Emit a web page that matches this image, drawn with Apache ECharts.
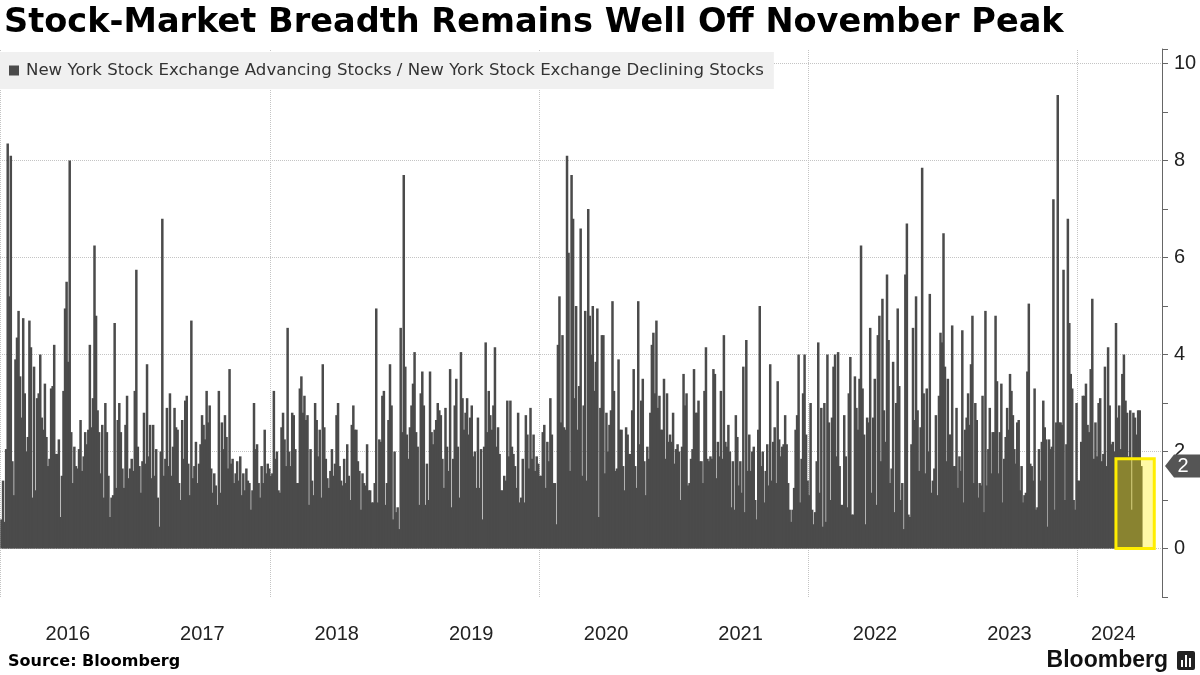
<!DOCTYPE html>
<html><head><meta charset="utf-8">
<script src="https://cdn.jsdelivr.net/npm/echarts@6/dist/echarts.min.js"></script>
<style>html,body{margin:0;padding:0;background:#fff}#chart{width:1200px;height:675px}</style>
</head><body><div id="chart"></div>
<script>
const chartTitle = 'Stock-Market Breadth Remains Well Off November Peak';
const seriesName = 'New York Stock Exchange Advancing Stocks / New York Stock Exchange Declining Stocks';
const sourceText = 'Source: Bloomberg';

// Advancers / decliners ratio (roughly every 2-3 trading days), one list per year
const values2016 = [0.6,1.4,0.55,2.05,8.35,5.2,8.1,1.8,1.1,3.9,4.35,4.9,3.55,2.7,4.75,3.2,2.0,2.3,4.7,4.15,1.05,3.75,1.2,3.1,3.2,4.0,2.7,2.45,3.4,2.3,1.7,1.85,3.3,3.35,4.2,1.95,1.95,2.25,0.65,1.5,3.25,4.95,5.5,3.85,8.0,2.4,1.35,2.1,1.7,1.65,2.05,2.65,1.6,1.9,2.4,2.15,2.45,4.2,2.5,3.1,6.25,4.8,2.85,2.4,1.55,2.55,1.05,3.0,2.4,1.5,0.65,1.05,1.1,4.65,1.25,2.65,3.0,2.4,1.65,1.25,2.55,3.15,1.45,1.65,1.85,1.6,3.25];
const values2017 = [5.75,2.1,1.7,1.15,1.8,2.8,1.75,3.8,1.9,2.55,1.45,2.55,1.5,2.05,1.05,0.45,2.0,6.8,1.5,1.85,2.9,1.7,3.2,1.5,2.1,2.9,2.5,2.45,1.35,1.0,2.65,1.85,3.05,3.15,1.75,1.1,4.7,1.45,1.7,2.2,1.35,1.75,2.15,2.75,2.55,2.25,3.25,2.6,2.95,1.65,1.15,1.55,1.3,0.9,3.25,1.15,2.6,2.05,2.75,2.3,1.65,3.7,1.75,1.85,1.35,1.55,1.8,1.4,1.9,1.1,1.55,1.2,1.65,1.4,1.35,0.8,1.2,3.0,2.05,2.15,1.35,1.05,1.7,1.35,2.45,1.55,1.75,1.65];
const values2018 = [1.5,1.55,3.25,1.85,2.0,1.2,1.15,2.5,2.8,2.25,1.7,4.55,2.0,1.7,2.8,2.75,2.05,1.35,1.35,3.3,3.55,2.8,3.15,2.65,2.75,0.9,2.05,1.4,1.1,3.0,2.65,1.9,2.45,1.05,3.8,2.5,1.85,1.45,1.25,1.6,2.05,1.5,1.75,2.75,3.0,1.7,1.4,1.3,1.85,1.35,2.15,1.5,1.0,2.55,2.95,2.45,2.45,1.8,1.6,0.8,1.55,1.35,1.3,2.15,1.2,1.2,0.95,0.95,1.35,4.95,0.95,2.25,2.2,3.15,3.25,0.9,1.35,2.65,3.8,2.95,0.6,2.0,0.75,0.85,0.4,4.55,2.4,7.7];
const values2019 = [3.75,2.35,1.85,2.5,2.95,3.4,4.05,2.4,2.1,0.9,3.2,3.65,2.95,0.9,1.75,1.0,3.65,2.4,2.15,2.45,2.65,3.0,2.85,2.75,1.85,1.25,2.9,2.1,1.6,3.7,0.85,1.85,2.95,3.5,2.1,1.05,4.05,3.1,2.45,2.8,3.1,2.35,2.7,2.95,1.9,2.0,1.25,2.7,1.25,2.05,0.6,2.1,4.25,2.4,3.25,2.75,2.45,2.95,4.15,2.1,2.5,1.95,1.2,1.2,1.5,1.4,3.05,1.9,3.05,2.1,1.95,1.7,1.25,2.8,0.95,1.05,1.85,0.95,2.75,2.35,1.65,2.9,1.85,2.35,1.6,1.9,1.75];
const values2020 = [1.5,1.5,2.4,2.55,1.25,2.2,1.8,3.1,2.35,1.35,1.35,0.5,4.2,5.2,2.6,4.4,2.5,2.45,8.1,6.1,1.6,7.7,6.8,3.1,5.0,2.45,3.35,6.6,1.5,2.95,4.9,1.4,7.0,4.8,4.0,5.0,3.25,3.85,4.95,0.65,2.9,4.4,4.4,1.55,2.8,2.0,2.55,2.85,5.1,3.25,1.6,1.65,3.9,2.45,2.45,1.7,1.2,2.5,2.35,1.95,1.95,2.85,3.7,1.7,1.25,5.1,2.15,3.05,3.5,1.8,1.1,2.1,1.85,2.8,4.2,4.45,3.2,4.7,2.9,3.15,2.45,2.45,3.5,1.85,3.2,2.2,2.35,2.2,2.8];
const values2021 = [1.75,2.05,2.15,2.0,1.0,2.1,3.6,2.95,3.2,1.3,1.35,1.85,2.05,3.7,2.8,2.8,3.05,1.8,1.8,1.35,3.25,4.15,1.85,1.8,1.9,1.85,3.7,3.6,1.45,2.2,1.9,3.25,1.85,4.4,2.2,2.1,2.55,2.0,0.85,1.8,0.8,2.75,2.3,1.3,1.8,1.15,3.75,0.75,4.3,1.6,2.35,1.6,2.0,2.1,1.0,0.6,2.45,5.0,1.7,2.0,0.95,1.6,2.15,1.3,3.8,1.4,2.2,2.5,1.35,3.45,2.25,1.9,2.1,2.15,2.75,2.15,1.35,0.8,0.55,0.8,1.25,2.45,2.75,4.0,0.95,1.85,3.2,4.0,2.35,1.4];
const values2022 = [1.1,3.0,0.8,0.5,0.75,1.8,4.25,1.15,2.9,0.45,3.0,0.55,4.0,2.6,1.0,2.7,3.75,4.0,1.9,4.05,1.7,0.9,0.9,2.75,1.9,0.85,3.2,3.95,0.7,0.7,3.55,2.9,2.45,3.5,6.25,3.3,2.35,0.5,2.7,2.6,4.55,1.15,2.7,3.5,0.9,4.4,4.8,1.8,5.15,2.85,2.2,5.65,4.3,1.35,1.65,3.85,0.75,3.0,4.95,3.35,1.0,1.35,0.4,5.65,6.7,0.7,0.65,2.15,4.55,2.65,5.2,2.85,1.6,2.5,7.85,3.2,1.55,3.3,2.0,5.25,1.15,1.4,1.65,2.75,1.1,3.15,4.45,4.25];
const values2023 = [6.5,3.75,1.8,3.5,2.35,2.35,4.6,1.7,1.7,2.9,1.25,1.9,1.6,4.5,0.95,2.45,2.7,3.2,2.55,3.8,4.8,1.35,3.0,2.65,1.05,1.35,1.3,3.15,0.75,4.9,1.3,2.05,2.9,1.55,2.4,2.4,4.8,3.45,1.55,2.4,3.4,0.95,1.85,2.3,2.9,2.45,3.6,3.25,2.75,2.05,1.75,2.6,2.65,1.2,1.7,0.95,1.1,1.15,3.65,5.05,1.75,1.7,1.4,3.3,0.8,0.85,2.05,1.4,2.2,3.05,2.5,2.25,0.45,2.25,2.05,2.1,7.2,0.8,2.6,9.35,2.6,2.6,2.55,5.75,1.0,2.15,6.8,4.65,3.6,3.3,1.0,0.8,3.0];
const values2024 = [1.4,1.4,2.2,3.15,3.15,3.4,2.55,2.4,3.7,5.15,1.85,2.6,1.9,3.0,3.1,1.8,1.95,3.75,1.7,4.15,2.95,2.15,2.2,2.0,4.65,2.7,2.95,2.05,3.6,4.0,3.05,2.8,1.9,2.85,0.8,2.8,2.7,2.35,2.85,2.85,1.7];

const years = [2016,2017,2018,2019,2020,2021,2022,2023,2024];
const yearValues = [values2016,values2017,values2018,values2019,values2020,values2021,values2022,values2023,values2024];
const lastDataDate = '2024-06-25';

const xLabelDates = ['2016-07-01','2017-07-01','2018-07-01','2019-07-01','2020-07-01','2021-07-01','2022-07-01','2023-07-01','2024-04-08'];
const xGridDates = ['2016-01-01','2018-01-01','2020-01-01','2022-01-01','2024-01-01'];
const xMinDate = '2015-12-30';
const xMaxDate = '2024-08-18';
const yTickLabels = [0,2,4,6,8,10];
const highlight = { start: '2024-04-15', end: '2024-07-28', top: 1.85 };

function ts(s) { const p = s.split('-').map(Number); return new Date(p[0], p[1]-1, p[2]).getTime(); }

// place each year's readings evenly through that year
const data = [];
years.forEach((y, k) => {
  const vals = yearValues[k];
  const a = ts(y + '-01-01');
  const b = y === 2024 ? ts(lastDataDate) : ts((y+1) + '-01-01');
  vals.forEach((v, i) => data.push([a + (i + 0.5) * (b - a) / vals.length, v]));
});
const lastValue = data[data.length-1][1];

const chart = echarts.init(document.getElementById('chart'));
chart.setOption({
  animation: false,
  backgroundColor: '#fff',
  title: [
    { text: chartTitle, left: 4, top: 6, padding: 0,
      textStyle: { fontFamily: 'DejaVu Sans', fontWeight: 'bold', fontSize: 33.6, color: '#000' } },
    { text: sourceText, left: 8, top: 654, padding: 0,
      textStyle: { fontFamily: 'DejaVu Sans', fontWeight: 'bold', fontSize: 16, color: '#000' } }
  ],
  legend: {
    data: [seriesName], left: 0, top: 52, backgroundColor: '#f0f0f0',
    padding: [10, 10, 10, 9], itemWidth: 10, itemHeight: 10, icon: 'rect',
    textStyle: { fontFamily: 'DejaVu Sans', fontSize: 16.6, color: '#333', padding: [0,0,0,2] }
  },
  grid: { left: 0, right: 38, top: 49, bottom: 78, containLabel: false },
  xAxis: {
    type: 'value', min: ts(xMinDate), max: ts(xMaxDate), scale: true,
    axisLine: { show: false }, axisTick: { show: false }, splitLine: { show: false },
    axisLabel: {
      customValues: xLabelDates.map(ts),
      formatter: v => String(new Date(v).getFullYear()),
      fontFamily: 'Liberation Sans', fontSize: 20, color: '#222', margin: 27
    }
  },
  yAxis: {
    type: 'value', position: 'right', min: -1, max: 10.3, interval: 1,
    axisLine: { show: true, lineStyle: { color: '#666', width: 1 } },
    axisTick: { show: true, length: 6, lineStyle: { color: '#666' } },
    axisLabel: {
      formatter: v => yTickLabels.indexOf(v) >= 0 ? String(v) : '',
      fontFamily: 'Liberation Sans', fontSize: 20, color: '#222', margin: 12
    },
    splitLine: { show: true, lineStyle: { color: ['rgba(0,0,0,0)', '#c4c4c4'], type: 'dotted', width: 1 } }
  },
  series: [{
    name: seriesName, type: 'bar', data: data, barWidth: 2.5, large: false, z: 2,
    itemStyle: { color: '#4b4b4b' },
    markLine: {
      silent: true, symbol: ['none','none'], z: 1, animation: false,
      label: { show: false },
      lineStyle: { color: '#c4c4c4', type: 'dotted', width: 1 },
      data: xGridDates.map(d => ({ xAxis: ts(d) }))
    }
  }]
});

// overlays positioned through the chart's own scales
const rect = chart.getModel().getComponent('grid').coordinateSystem.getRect();
const p1 = chart.convertToPixel({ seriesIndex: 0 }, [ts(highlight.start), highlight.top]);
const p2 = chart.convertToPixel({ seriesIndex: 0 }, [ts(highlight.end), 0]);
const ly = chart.convertToPixel({ yAxisIndex: 0 }, lastValue);
const ax = rect.x + rect.width;
chart.setOption({
  graphic: [
    { type: 'rect', z: 10, shape: { x: p1[0], y: p1[1], width: p2[0]-p1[0], height: p2[1]-p1[1] },
      style: { fill: 'rgba(255,238,0,0.35)', stroke: '#ffee00', lineWidth: 3 } },
    { type: 'polygon', z: 10, shape: { points: [[ax+3, ly], [ax+12, ly-11.5], [ax+38, ly-11.5], [ax+38, ly+11.5], [ax+12, ly+11.5]] },
      style: { fill: '#555' } },
    { type: 'text', z: 11, x: ax+21, y: ly, style: { text: String(Math.round(lastValue)), fill: '#fff',
      font: '20px "Liberation Sans"', align: 'center', verticalAlign: 'middle' } },
    { type: 'text', z: 11, x: 1168, y: 661, style: { text: 'Bloomberg', fill: '#111',
      font: 'bold 23px "Liberation Sans"', align: 'right', verticalAlign: 'middle' } },
    { type: 'rect', z: 11, shape: { x: 1177, y: 651, width: 18, height: 19, r: 2 }, style: { fill: '#222' } },
    { type: 'rect', z: 12, shape: { x: 1181, y: 660, width: 2, height: 7 }, style: { fill: '#fff' } },
    { type: 'rect', z: 12, shape: { x: 1185, y: 655, width: 2, height: 12 }, style: { fill: '#fff' } },
    { type: 'rect', z: 12, shape: { x: 1189, y: 658, width: 2, height: 9 }, style: { fill: '#fff' } }
  ]
});
</script></body></html>
